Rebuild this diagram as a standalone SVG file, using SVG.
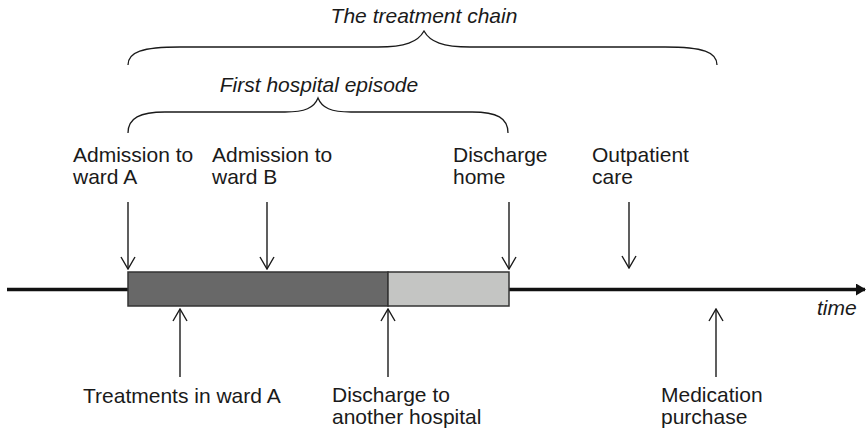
<svg xmlns="http://www.w3.org/2000/svg" width="867" height="431" viewBox="0 0 867 431">
  <style>
    .lbl { font-family: "Liberation Sans", Arial, sans-serif; font-size: 21px; fill: #1a1a1a; }
    .ttl { font-family: "Liberation Sans", Arial, sans-serif; font-size: 21px; font-style: italic; fill: #1a1a1a; }
    .brace { fill: none; stroke: #1a1a1a; stroke-width: 1.3; }
    .pointer { fill: none; stroke: #1a1a1a; stroke-width: 1.4; marker-end: url(#open); }
  </style>
  <defs>
    <marker id="open" viewBox="0 0 14 16" refX="13" refY="8" markerWidth="14" markerHeight="16" markerUnits="userSpaceOnUse" orient="auto">
      <path d="M1,1 L13,8 L1,15" fill="none" stroke="#1a1a1a" stroke-width="1.4"/>
    </marker>
    <marker id="solid" viewBox="0 0 10 12" refX="9" refY="6" markerWidth="10" markerHeight="12" markerUnits="userSpaceOnUse" orient="auto">
      <path d="M0,0 L10,6 L0,12 Z" fill="#111"/>
    </marker>
  </defs>

  <!-- time axis -->
  <g id="axis">
    <line x1="7" y1="289.5" x2="865" y2="289.5" stroke="#111" stroke-width="3.5" marker-end="url(#solid)"/>
    <text class="ttl" x="817" y="315">time</text>
  </g>

  <!-- stay in hospital: ward A (dark) then ward B (light) -->
  <g id="stay">
    <rect x="128" y="272" width="260" height="34" fill="#686868" stroke="#333" stroke-width="1.5"/>
    <rect x="388" y="272" width="121" height="34" fill="#c4c5c3" stroke="#333" stroke-width="1.5"/>
  </g>

  <!-- braces -->
  <g id="chain">
    <path class="brace" d="M128,65 C128,52 142,47 180,47 L378,47 C405,47 418,42 424,31 C430,42 443,47 470,47 L665,47 C703,47 717,52 717,65"/>
    <text class="ttl" x="424" y="23" text-anchor="middle">The treatment chain</text>
  </g>
  <g id="episode">
    <path class="brace" d="M128,133 C128,118 140,112 165,112 L285,112 C305,112 314,108 318,98 C322,108 331,112 351,112 L472,112 C497,112 508,118 508,133"/>
    <text class="ttl" x="319" y="92" text-anchor="middle">First hospital episode</text>
  </g>

  <!-- event labels -->
  <g id="admission-a">
    <text class="lbl" x="73" y="162">Admission to</text>
    <text class="lbl" x="73" y="184">ward A</text>
  </g>
  <g id="admission-b">
    <text class="lbl" x="212" y="162">Admission to</text>
    <text class="lbl" x="212" y="184">ward B</text>
  </g>
  <g id="discharge-home">
    <text class="lbl" x="453" y="162">Discharge</text>
    <text class="lbl" x="453" y="184">home</text>
  </g>
  <g id="outpatient">
    <text class="lbl" x="592" y="162">Outpatient</text>
    <text class="lbl" x="592" y="184">care</text>
  </g>
  <g id="treatments">
    <text class="lbl" x="83" y="403">Treatments in ward A</text>
  </g>
  <g id="discharge-other">
    <text class="lbl" x="332" y="402">Discharge to</text>
    <text class="lbl" x="332" y="424">another hospital</text>
  </g>
  <g id="medication">
    <text class="lbl" x="661" y="402">Medication</text>
    <text class="lbl" x="661" y="424">purchase</text>
  </g>

  <!-- pointers onto the timeline -->
  <g id="connectors">
    <line class="pointer" x1="128" y1="202" x2="128" y2="269"/>
    <line class="pointer" x1="267" y1="202" x2="267" y2="269"/>
    <line class="pointer" x1="509" y1="202" x2="509" y2="269"/>
    <line class="pointer" x1="629" y1="202" x2="629" y2="268"/>
    <line class="pointer" x1="180" y1="377" x2="180" y2="309"/>
    <line class="pointer" x1="388" y1="377" x2="388" y2="309"/>
    <line class="pointer" x1="716" y1="377" x2="716" y2="309"/>
  </g>
</svg>
